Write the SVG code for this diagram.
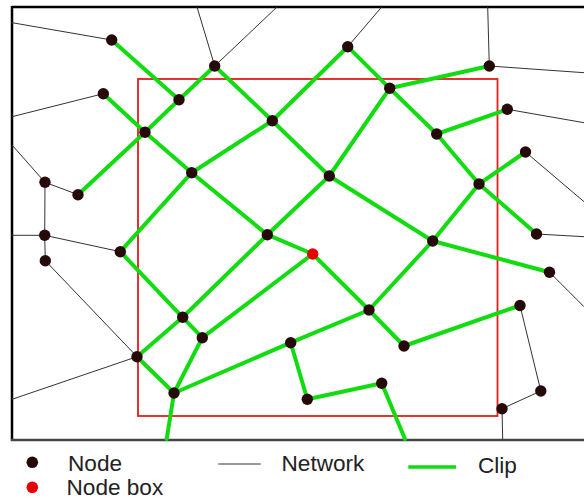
<svg xmlns="http://www.w3.org/2000/svg" width="584" height="500" viewBox="0 0 584 500">
<style>
.net{stroke:#333;stroke-width:1;fill:none}
.clip{stroke:#10dc10;stroke-width:4;fill:none;stroke-linecap:round}
.node{fill:#260909}
.box{fill:#e60000}
.lbl{font-family:"Liberation Sans",Arial,sans-serif;font-size:22.6px;fill:#222}
</style>
<rect width="584" height="500" fill="#fff"/>
<g id="frame">
<line x1="12" y1="7" x2="584" y2="7" stroke="#000" stroke-width="2.5"/>
<line x1="12" y1="6" x2="12" y2="441" stroke="#000" stroke-width="2.5"/>
<line x1="11" y1="440" x2="584" y2="440" stroke="#444" stroke-width="2.5"/>
</g>
<g id="clip-box">
<rect x="138" y="79" width="359.5" height="337" fill="none" stroke="#e41c1c" stroke-width="1.8"/>
</g>
<g id="connectors">
<g class="net">
<line x1="111.7" y1="40" x2="12" y2="22.7"/>
<line x1="214.7" y1="66" x2="197" y2="7"/>
<line x1="214.7" y1="66" x2="277" y2="7"/>
<line x1="103.3" y1="93.7" x2="12" y2="116.7"/>
<line x1="45" y1="182.3" x2="12" y2="145"/>
<line x1="45" y1="182.3" x2="78" y2="194.7"/>
<line x1="45" y1="182.3" x2="44.7" y2="235.3"/>
<line x1="44.7" y1="235.3" x2="12" y2="235.3"/>
<line x1="44.7" y1="235.3" x2="120.3" y2="251.7"/>
<line x1="44.7" y1="235.3" x2="45.3" y2="260.7"/>
<line x1="45.3" y1="260.7" x2="137" y2="356.7"/>
<line x1="137" y1="356.7" x2="12" y2="399.3"/>
<line x1="347.7" y1="46.7" x2="381.7" y2="7"/>
<line x1="489.3" y1="66" x2="487.7" y2="7"/>
<line x1="489.3" y1="66" x2="584" y2="72.7"/>
<line x1="507.3" y1="109.3" x2="584" y2="122.7"/>
<line x1="525.5" y1="152" x2="584" y2="201.7"/>
<line x1="536.5" y1="234" x2="584" y2="236.7"/>
<line x1="549.5" y1="272.2" x2="584" y2="306.7"/>
<line x1="520" y1="305.5" x2="540.8" y2="391"/>
<line x1="540.8" y1="391" x2="502" y2="408.7"/>
<line x1="502" y1="408.7" x2="502.7" y2="439"/>
</g>
<g class="clip">
<line x1="111.7" y1="40" x2="179" y2="99.7"/>
<line x1="214.7" y1="66" x2="179" y2="99.7"/>
<line x1="179" y1="99.7" x2="145" y2="132.3"/>
<line x1="214.7" y1="66" x2="272.3" y2="120.7"/>
<line x1="103.3" y1="93.7" x2="145" y2="132.3"/>
<line x1="145" y1="132.3" x2="78" y2="194.7"/>
<line x1="145" y1="132.3" x2="191.7" y2="172.7"/>
<line x1="272.3" y1="120.7" x2="191.7" y2="172.7"/>
<line x1="272.3" y1="120.7" x2="347.7" y2="46.7"/>
<line x1="272.3" y1="120.7" x2="329.3" y2="176"/>
<line x1="191.7" y1="172.7" x2="120.3" y2="251.7"/>
<line x1="191.7" y1="172.7" x2="267.3" y2="234.7"/>
<line x1="347.7" y1="46.7" x2="389.7" y2="88.3"/>
<line x1="389.7" y1="88.3" x2="489.3" y2="66"/>
<line x1="389.7" y1="88.3" x2="329.3" y2="176"/>
<line x1="389.7" y1="88.3" x2="436.7" y2="134"/>
<line x1="436.7" y1="134" x2="507.3" y2="109.3"/>
<line x1="436.7" y1="134" x2="479" y2="184"/>
<line x1="479" y1="184" x2="525.5" y2="152"/>
<line x1="479" y1="184" x2="536.5" y2="234"/>
<line x1="479" y1="184" x2="432.7" y2="241"/>
<line x1="329.3" y1="176" x2="267.3" y2="234.7"/>
<line x1="329.3" y1="176" x2="432.7" y2="241"/>
<line x1="432.7" y1="241" x2="549.5" y2="272.2"/>
<line x1="432.7" y1="241" x2="369" y2="310"/>
<line x1="267.3" y1="234.7" x2="312.7" y2="254"/>
<line x1="267.3" y1="234.7" x2="182.7" y2="317.3"/>
<line x1="312.7" y1="254" x2="202.3" y2="337.7"/>
<line x1="312.7" y1="254" x2="369" y2="310"/>
<line x1="120.3" y1="251.7" x2="182.7" y2="317.3"/>
<line x1="182.7" y1="317.3" x2="202.3" y2="337.7"/>
<line x1="182.7" y1="317.3" x2="137" y2="356.7"/>
<line x1="137" y1="356.7" x2="174" y2="393"/>
<line x1="202.3" y1="337.7" x2="174" y2="393"/>
<line x1="174" y1="393" x2="290.7" y2="342.7"/>
<line x1="174" y1="393" x2="166.7" y2="439"/>
<line x1="369" y1="310" x2="290.7" y2="342.7"/>
<line x1="369" y1="310" x2="404" y2="346"/>
<line x1="404" y1="346" x2="520" y2="305.5"/>
<line x1="290.7" y1="342.7" x2="307.3" y2="399.3"/>
<line x1="307.3" y1="399.3" x2="381.7" y2="383.3"/>
<line x1="381.7" y1="383.3" x2="405" y2="439"/>
</g>
</g>
<g id="nodes">
<circle id="n1" class="node" cx="111.7" cy="40" r="5.7"/>
<circle id="n2" class="node" cx="214.7" cy="66" r="5.7"/>
<circle id="n3" class="node" cx="179" cy="99.7" r="5.7"/>
<circle id="n4" class="node" cx="103.3" cy="93.7" r="5.7"/>
<circle id="n5" class="node" cx="145" cy="132.3" r="5.7"/>
<circle id="n6" class="node" cx="272.3" cy="120.7" r="5.7"/>
<circle id="n7" class="node" cx="191.7" cy="172.7" r="5.7"/>
<circle id="n8" class="node" cx="45" cy="182.3" r="5.7"/>
<circle id="n9" class="node" cx="78" cy="194.7" r="5.7"/>
<circle id="n10" class="node" cx="347.7" cy="46.7" r="5.7"/>
<circle id="n11" class="node" cx="489.3" cy="66" r="5.7"/>
<circle id="n12" class="node" cx="389.7" cy="88.3" r="5.7"/>
<circle id="n13" class="node" cx="507.3" cy="109.3" r="5.7"/>
<circle id="n14" class="node" cx="436.7" cy="134" r="5.7"/>
<circle id="n15" class="node" cx="525.5" cy="152" r="5.7"/>
<circle id="n16" class="node" cx="329.3" cy="176" r="5.7"/>
<circle id="n17" class="node" cx="479" cy="184" r="5.7"/>
<circle id="n18" class="node" cx="44.7" cy="235.3" r="5.7"/>
<circle id="n19" class="node" cx="45.3" cy="260.7" r="5.7"/>
<circle id="n20" class="node" cx="120.3" cy="251.7" r="5.7"/>
<circle id="n21" class="node" cx="267.3" cy="234.7" r="5.7"/>
<circle id="n22" class="node" cx="182.7" cy="317.3" r="5.7"/>
<circle id="n23" class="node" cx="202.3" cy="337.7" r="5.7"/>
<circle id="n24" class="node" cx="137" cy="356.7" r="5.7"/>
<circle id="n25" class="node" cx="174" cy="393" r="5.7"/>
<circle id="n26" class="node" cx="290.7" cy="342.7" r="5.7"/>
<circle id="n27" class="node" cx="536.5" cy="234" r="5.7"/>
<circle id="n28" class="node" cx="432.7" cy="241" r="5.7"/>
<circle id="n29" class="box" cx="312.7" cy="254" r="5.7"/>
<circle id="n30" class="node" cx="549.5" cy="272.2" r="5.7"/>
<circle id="n31" class="node" cx="520" cy="305.5" r="5.7"/>
<circle id="n32" class="node" cx="369" cy="310" r="5.7"/>
<circle id="n33" class="node" cx="404" cy="346" r="5.7"/>
<circle id="n34" class="node" cx="381.7" cy="383.3" r="5.7"/>
<circle id="n35" class="node" cx="307.3" cy="399.3" r="5.7"/>
<circle id="n36" class="node" cx="540.8" cy="391" r="5.7"/>
<circle id="n37" class="node" cx="502" cy="408.7" r="5.7"/>
</g>
<g id="legend">
<circle class="node" cx="32.3" cy="462.3" r="5.8"/>
<text class="lbl" x="68" y="471">Node</text>
<circle class="box" cx="32.3" cy="487.3" r="5.8"/>
<text class="lbl" x="66.5" y="495">Node box</text>
<line class="net" x1="218.3" y1="464" x2="260.7" y2="464"/>
<text class="lbl" x="281.5" y="471">Network</text>
<line x1="408.3" y1="467" x2="456" y2="467" stroke="#10dc10" stroke-width="3.5"/>
<text class="lbl" x="478" y="473">Clip</text>
</g>
</svg>
